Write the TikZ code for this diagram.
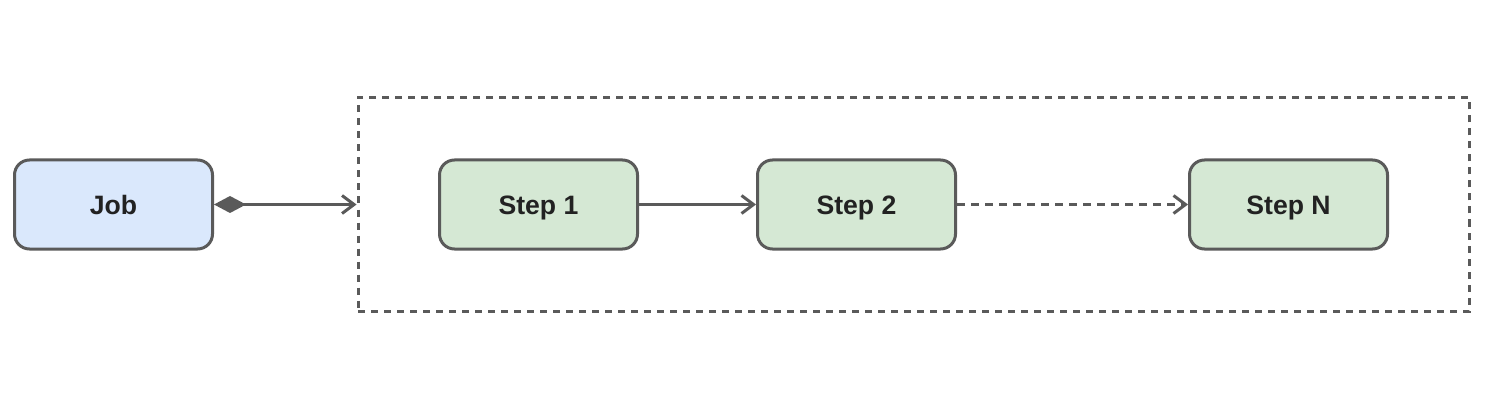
\documentclass[tikz,border=0pt]{standalone}
\usepackage{fontspec}
\setmainfont{Liberation Sans}
\usetikzlibrary{positioning,fit,arrows.meta}
\definecolor{jobfill}{HTML}{DAE8FC}
\definecolor{stepfill}{HTML}{D5E8D4}
\definecolor{edge}{HTML}{5A5A5A}
\definecolor{label}{HTML}{222222}
\begin{document}
\begin{tikzpicture}[
    box/.style={draw=edge,line width=1.5pt,rounded corners=7.5pt,minimum width=99pt,minimum height=44.5pt,
      text height=9.5pt,text depth=0pt,text=label,font=\fontsize{13.3}{15}\selectfont\bfseries},
    jobbox/.style={box,fill=jobfill},
    stepbox/.style={box,fill=stepfill},
    link/.style={draw=edge,line width=1.5pt,-{Straight Barb[length=6pt,width=9pt]}},
    frame/.style={draw=edge,line width=1.5pt,dash pattern=on 3.5pt off 3pt}]
      \useasboundingbox (0,0) rectangle (743pt,-203pt);
      \node[jobbox] (job) at (56.75pt,-102.25pt) {Job};
      \node[stepbox,right=112pt of job] (s1) {Step 1};
      \node[stepbox,right=58.5pt of s1] (s2) {Step 2};
      \node[stepbox,right=115.5pt of s2] (sN) {Step N};
      % dashed group round the steps
      \node[frame,fit=(s1)(sN),inner xsep=40pt,inner ysep=30.5pt] (steps) {};
      \draw[link,{Diamond[length=16pt,width=8.5pt]}-{Straight Barb[length=6pt,width=9pt]}] (job) -- (steps.west);
      \draw[link] (s1) -- (s2);
      \draw[link,dash pattern=on 4pt off 3pt] (s2) -- (sN);
    \end{tikzpicture}
\end{document}
